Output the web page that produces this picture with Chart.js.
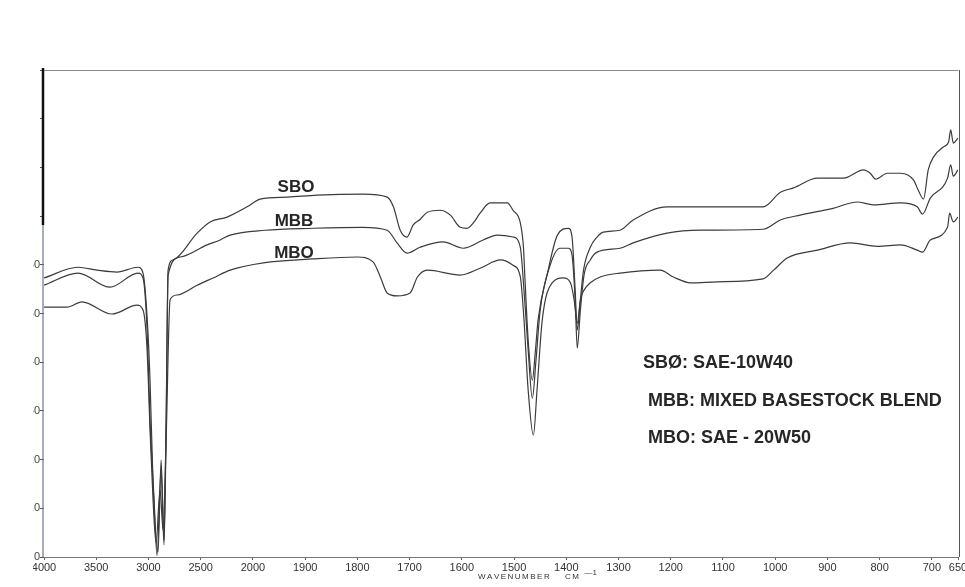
<!DOCTYPE html>
<html>
<head>
<meta charset="utf-8">
<script src="https://cdn.jsdelivr.net/npm/chart.js@4"></script>
<style>
	html, body { margin: 0; padding: 0; background: #fff; }
	#wrap { position: relative; width: 965px; height: 587px; overflow: hidden; }
	#clip { position: absolute; left: 0; top: 0; width: 33px; height: 587px; background: #fff; }
</style>
</head>
<body>
<div id="wrap">
	<canvas id="ir" width="965" height="587"></canvas>
	<div id="clip"></div>
</div>
<script>
// IR spectra of three oils, transmittance (%) against wavenumber (cm-1)
const xTickWaves = [4000, 3500, 3000, 2500, 2000, 1900, 1800, 1700, 1600, 1500, 1400, 1300, 1200, 1100, 1000, 900, 800, 700, 650];
const yMax = 100;

const sboWave = [4000,3674,3492,3301,3100,3052,3013,2985,2956,2908,2879,2851,2831,2812,2764,2534,2410,2247,2056,1986,1934,1877,1789,1743,1731,1718,1705,1693,1680,1666,1641,1622,1603,1590,1578,1565,1546,1513,1502,1488,1482,1479,1473,1465,1459,1454,1436,1417,1396,1389,1383,1379,1373,1367,1354,1341,1329,1297,1272,1207,1162,1080,1023,990,965,919,869,831,818,808,785,760,735,726,716,707,697,678,668,664,659,650];
const sboT = [57.3,59.5,58.9,58.5,59.5,58.3,49.3,36.3,15.2,1.0,19.9,3.5,28.1,58.9,61.0,66.5,68.8,69.8,71.9,73.5,73.9,74.3,74.5,73.9,71.9,67.1,65.7,68.2,69.3,70.8,71.2,70.2,67.7,67.5,68.6,70.6,72.7,72.7,71.2,68.6,63.6,56.9,44.6,36.3,42.5,48.7,58.3,66.1,67.5,65.7,54.8,46.6,52.8,58.9,63.6,65.7,66.7,67.1,69.2,71.9,71.9,71.9,71.9,74.9,75.8,77.8,77.8,79.5,78.8,77.6,78.8,78.8,77.4,75.3,73.5,79.5,82.1,84.2,85.2,87.7,85.0,86.0];

const mbbWave = [4000,3674,3368,3100,3052,3013,2985,2946,2918,2879,2851,2831,2812,2697,2439,2314,2218,1977,1885,1790,1743,1724,1705,1680,1636,1597,1559,1532,1502,1488,1481,1473,1465,1458,1450,1431,1412,1396,1389,1383,1379,1373,1366,1354,1341,1297,1272,1207,1143,1023,990,952,889,843,812,760,728,718,703,670,664,659,650];
const mbbT = [55.8,58.3,55.4,58.3,57.3,46.6,28.1,11.7,0.3,17.9,2.5,26.1,57.9,61.6,64.1,65.1,66.1,67.1,67.5,67.7,67.1,64.5,62.4,63.6,64.7,63.4,65.1,66.1,65.7,63.6,54.8,42.5,32.6,40.4,50.7,59.9,63.4,63.4,62.0,52.8,42.9,50.7,57.9,61.0,62.6,63.4,64.5,66.5,67.1,67.3,69.2,70.2,71.6,72.9,72.3,72.7,71.9,70.4,73.7,77.8,80.5,78.2,79.5];

const mboWave = [4000,3780,3636,3349,3109,3052,3013,2985,2956,2927,2889,2860,2831,2793,2726,2534,2381,2218,1980,1885,1800,1770,1756,1743,1724,1699,1685,1666,1603,1565,1526,1502,1488,1481,1473,1463,1456,1446,1427,1406,1392,1385,1379,1373,1366,1354,1335,1297,1220,1195,1162,1111,1023,1003,977,919,856,804,760,728,718,703,670,666,659,650];
const mboT = [51.3,51.3,52.4,49.9,51.7,50.7,42.5,26.1,11.7,2.9,13.8,5.5,24.0,52.8,53.8,55.8,57.3,58.9,60.4,61.2,61.6,60.6,57.5,54.2,53.6,54.2,57.5,58.9,57.9,59.3,61.0,59.9,57.5,48.7,34.3,25.0,34.3,48.7,56.3,57.3,56.3,52.8,48.0,52.8,54.8,56.3,57.5,58.3,58.9,57.5,56.3,56.5,57.1,58.9,61.4,63.0,64.5,63.8,64.1,63.0,62.6,65.1,67.7,70.6,68.8,69.8];

// the spectrometer chart changes scale at 2000 cm-1 (500 per division above, 100 below)
const waveToPos = (w) => w >= 2000 ? (4000 - w) / 500 : 4 + (2000 - w) / 100;
const toPoints = (waves, vals) => waves.map((w, i) => ({ x: waveToPos(w), y: vals[i] }));

const ink = '#3b3b3b';
const curveLabels = [
	{ text: 'SBO', x: 296, y: 187 },
	{ text: 'MBB', x: 294, y: 221 },
	{ text: 'MBO', x: 294, y: 253 }
];
const keyLines = [
	{ text: 'SBØ: SAE-10W40', x: 643, y: 363 },
	{ text: 'MBB: MIXED BASESTOCK BLEND', x: 648, y: 401 },
	{ text: 'MBO: SAE - 20W50', x: 648, y: 438 }
];

function spaced(ctx, text, x, y, gap){
	for(const ch of text){
		ctx.fillText(ch, x, y);
		x += ctx.measureText(ch).width + gap;
	}
	return x;
}

const paperPlugin = {
	id: 'paper',
	beforeDatasetsDraw(chart){
		const { ctx, chartArea: a } = chart;
		ctx.save();
		ctx.lineWidth = 1;
		ctx.strokeStyle = '#8a8a8a';
		ctx.beginPath(); ctx.moveTo(a.left, a.top + 0.5); ctx.lineTo(a.right, a.top + 0.5); ctx.stroke();
		ctx.strokeStyle = '#555';
		ctx.beginPath(); ctx.moveTo(a.right + 1.5, a.top); ctx.lineTo(a.right + 1.5, a.bottom); ctx.stroke();
		ctx.strokeStyle = '#777';
		ctx.beginPath(); ctx.moveTo(a.left, a.bottom + 0.5); ctx.lineTo(a.right, a.bottom + 0.5); ctx.stroke();
		// heavy pen stroke on the upper left edge
		ctx.strokeStyle = '#111';
		ctx.lineWidth = 2.5;
		ctx.beginPath(); ctx.moveTo(a.left - 1, a.top - 2); ctx.lineTo(a.left - 1, 225); ctx.stroke();
		ctx.strokeStyle = '#6f7890';
		ctx.lineWidth = 1.2;
		ctx.beginPath(); ctx.moveTo(a.left - 1, 225); ctx.lineTo(a.left - 1, a.bottom); ctx.stroke();
		ctx.restore();
	},
	afterDraw(chart){
		const { ctx } = chart;
		ctx.save();
		ctx.fillStyle = '#262626';
		ctx.textBaseline = 'middle';
		ctx.textAlign = 'center';
		ctx.font = 'bold 17px "Liberation Sans", Arial, sans-serif';
		curveLabels.forEach(l => ctx.fillText(l.text, l.x, l.y));
		ctx.textAlign = 'left';
		ctx.font = 'bold 18px "Liberation Sans", Arial, sans-serif';
		keyLines.forEach(l => ctx.fillText(l.text, l.x, l.y));
		// axis title
		ctx.fillStyle = '#333';
		ctx.font = '8px "Liberation Sans", Arial, sans-serif';
		spaced(ctx, 'WAVENUMBER', 478, 577, 1.5);
		const cx = spaced(ctx, 'CM', 565, 577, 1.5);
		ctx.fillText('—1', cx + 4, 573);
		ctx.restore();
	}
};

const lineStyle = { borderColor: ink, borderWidth: 1.2, pointRadius: 0, fill: false, cubicInterpolationMode: 'monotone' };

new Chart(document.getElementById('ir'), {
	type: 'line',
	data: {
		datasets: [
			{ label: 'SBO', data: toPoints(sboWave, sboT), ...lineStyle },
			{ label: 'MBB', data: toPoints(mbbWave, mbbT), ...lineStyle },
			{ label: 'MBO', data: toPoints(mboWave, mboT), ...lineStyle }
		]
	},
	options: {
		responsive: false,
		animation: false,
		layout: { padding: { top: 70, right: 7, bottom: 0, left: 0 } },
		plugins: { legend: { display: false }, tooltip: { enabled: false } },
		scales: {
			x: {
				type: 'linear',
				min: 0,
				max: waveToPos(650),
				afterBuildTicks: (s) => { s.ticks = xTickWaves.map(w => ({ value: waveToPos(w) })); },
				afterFit: (s) => { s.height = 30; s.paddingLeft = 0; s.paddingRight = 0; },
				ticks: {
					autoSkip: false,
					maxRotation: 0,
					padding: 1,
					color: '#333',
					font: { family: '"Liberation Sans", Arial, sans-serif', size: 11 },
					callback: (v, i) => xTickWaves[i]
				},
				grid: { display: true, drawOnChartArea: false, tickLength: 3, color: '#666' },
				border: { display: false }
			},
			y: {
				min: 0,
				max: yMax,
				afterFit: (s) => { s.width = 44; s.paddingTop = 0; s.paddingBottom = 0; },
				ticks: {
					stepSize: 10,
					padding: 0,
					color: '#444',
					font: { family: '"Liberation Sans", Arial, sans-serif', size: 11 },
					callback: (v) => v <= 60 ? String(v) : ''
				},
				grid: { display: true, drawOnChartArea: false, tickLength: 4, color: '#555' },
				border: { display: false }
			}
		}
	},
	plugins: [paperPlugin]
});
</script>
</body>
</html>
